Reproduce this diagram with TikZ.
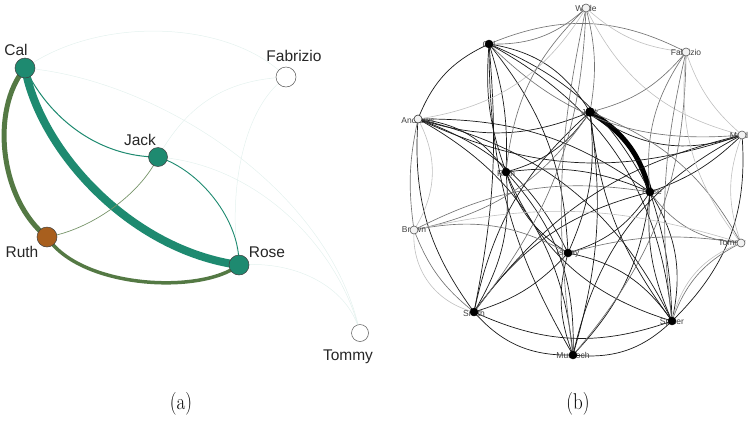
\documentclass[tikz,border=0pt]{standalone}
\usepackage{fontspec}
\usepackage{graphicx}
\newfontfamily\labfont{Liberation Sans}
\definecolor{tealC}{RGB}{30,138,112}
\definecolor{oliveC}{RGB}{84,121,68}
\definecolor{ruthC}{RGB}{168,95,30}
\pgfdeclarelayer{bg}
\pgfsetlayers{bg,main}
\begin{document}
\begin{tikzpicture}[x=1pt,y=-1pt,
  lnode/.style={circle,inner sep=0pt,minimum size=20pt,draw=black!75,line width=0.5pt},
  tealnode/.style={lnode,fill=tealC},
  ruthnode/.style={lnode,fill=ruthC},
  opennode/.style={lnode,fill=white,draw=black!65},
  llab/.style={font=\labfont\fontsize{15.5}{18}\selectfont,text=black!85,inner sep=0pt},
  faint/.style={draw=tealC!12,line width=0.5pt},
  captext/.style={font=\fontsize{19}{22}\selectfont,inner sep=0pt},
  rdot/.style={circle,inner sep=0pt,minimum size=8pt,fill=black,draw=black},
  ropen/.style={circle,inner sep=0pt,minimum size=8pt,draw=black!65,fill=black!5,line width=0.6pt},
  rlab/.style={font=\labfont\fontsize{8.5}{10}\selectfont,text=black!75,inner sep=0pt},
  dk/.style={draw=black!90,line width=0.7pt},
  md/.style={draw=black!55,line width=0.65pt},
  lt/.style={draw=black!25,line width=0.6pt}
]
\useasboundingbox (0,0) rectangle (752,421);

% ---------------- panel (a) ----------------
\node[tealnode] (cal) at (25,68) {};
\node[opennode] (fab) at (286,77) {};
\node[tealnode,minimum size=19pt] (jack) at (158,157) {};
\node[ruthnode] (ruth) at (47,237) {};
\node[tealnode] (rose) at (239,265) {};
\node[opennode,minimum size=17pt] (tommy) at (360,333) {};

\node[llab] (lcal) at (16,50) {Cal};
\node[llab] (lfab) at (294,56) {Fabrizio};
\node[llab] (ljack) at (140,140) {Jack};
\node[llab] (lruth) at (22,252) {Ruth};
\node[llab] (lrose) at (267,252) {Rose};
\node[llab] (ltommy) at (348,357) {Tommy};

\begin{pgfonlayer}{bg}
  \draw[faint] (cal.center) .. controls (100,15) and (230,20) .. (fab.center);
  \draw[faint] (cal.center) .. controls (160,80) and (330,190) .. (tommy.center);
  \draw[faint] (jack.center) .. controls (190,100) and (230,80) .. (fab.center);
  \draw[faint] (fab.center) .. controls (240,110) and (228,200) .. (rose.center);
  \draw[faint] (jack.center) .. controls (260,165) and (340,250) .. (tommy.center);
  \draw[faint] (rose.center) .. controls (300,260) and (350,290) .. (tommy.center);
  \draw[oliveC,line width=5pt] (cal.center) .. controls (-10,110) and (0,200) .. (ruth.center);
  \draw[tealC,line width=8pt] (cal.center) .. controls (40,150) and (130,250) .. (rose.center);
  \draw[tealC,line width=1pt] (cal.center) .. controls (50,120) and (100,157) .. (jack.center);
  \draw[tealC,line width=0.9pt] (jack.center) .. controls (200,170) and (240,220) .. (rose.center);
  \draw[oliveC!80,line width=0.7pt] (ruth.center) .. controls (90,230) and (140,195) .. (jack.center);
  \draw[oliveC,line width=3.5pt] (ruth.center) .. controls (80,288) and (200,295) .. (rose.center);
\end{pgfonlayer}

\node[captext] (capa) at (181,404) {\scalebox{1}[1.2]{(a)}};

% ---------------- panel (b) ----------------
\node[rlab] (lwil) at (586,8) {Wilde};
\node[rlab] (lcal2) at (489,44) {Cal};
\node[rlab] (lfab2) at (686,52) {Fabrizio};
\node[rlab] (land) at (418,120) {Andrews};
\node[rlab] (ljac) at (590,112) {Jack};
\node[rlab] (lmai) at (739,135) {Maid};
\node[rlab] (lrut) at (506,173) {Ruth};
\node[rlab] (lros) at (652,192) {Rose};
\node[rlab] (lbro) at (414,230) {Brown};
\node[rlab] (lism) at (568,253) {Ismay};
\node[rlab] (ltom) at (732,243) {Tommy};
\node[rlab] (lsmi) at (474,313) {Smith};
\node[rlab] (lspi) at (672,322) {Spicer};
\node[rlab] (lmur) at (573,355) {Murdoch};

\node[ropen] (wil) at (586,8) {};
\node[rdot] (cal2) at (489,44) {};
\node[ropen] (fab2) at (686,52) {};
\node[ropen,draw=black!80] (and) at (418,119) {};
\node[rdot,minimum size=9pt] (jac) at (590,112) {};
\node[ropen] (mai) at (742,135) {};
\node[rdot] (rut) at (506,172) {};
\node[rdot] (ros) at (650,192) {};
\node[ropen] (bro) at (414,230) {};
\node[rdot] (ism) at (568,253) {};
\node[ropen] (tom) at (741,243) {};
\node[rdot] (smi) at (474,312) {};
\node[rdot] (spi) at (672,321) {};
\node[rdot] (mur) at (573,355) {};

\begin{pgfonlayer}{bg}
  \draw[black,line width=5pt] (jac.center) to[bend left=22] (ros.center);
  \foreach \a/\b/\s/\k in {
    cal2/jac/dk/25, cal2/ros/dk/20, cal2/rut/dk/10, cal2/rut/dk/-12, cal2/smi/dk/8,
    cal2/mur/dk/-15, cal2/ism/dk/18, cal2/spi/dk/28, and/cal2/dk/22,
    and/jac/dk/-20, and/ros/dk/18, and/rut/dk/25, and/smi/dk/-20, and/ism/dk/22,
    and/mur/dk/28, and/spi/dk/25, and/mai/dk/-22,
    jac/rut/dk/20, jac/ism/dk/15, jac/smi/dk/-18, jac/mur/dk/12, jac/spi/dk/-15,
    jac/mai/dk/-28, ros/rut/dk/-15, ros/ism/dk/20, ros/smi/dk/-20, ros/mur/dk/18,
    ros/spi/dk/8, ros/spi/dk/-14, ros/spi/dk/22, ros/mai/dk/-12,
    rut/smi/dk/18, rut/ism/dk/-20, rut/mur/dk/22, rut/spi/dk/-25,
    ism/smi/dk/15, ism/mur/dk/-18, ism/spi/dk/22, smi/mur/dk/-25,
    smi/spi/dk/-22, smi/mai/dk/20, mur/spi/dk/-25, mur/mai/dk/25, spi/mai/dk/-25,
    cal2/mai/md/-25, wil/cal2/md/22, wil/jac/md/12, wil/smi/md/18, wil/mur/md/-10,
    fab2/jac/md/18, fab2/ros/md/-20, fab2/mur/md/20, fab2/cal2/md/-25,
    tom/spi/md/-22, tom/ros/md/25, tom/jac/md/-20, tom/ism/md/-12,
    bro/ros/md/18, bro/jac/md/-22, bro/smi/md/-15, bro/ism/md/20, bro/and/md/10,
    wil/fab2/lt/-18, wil/mai/lt/-25, fab2/mai/lt/-15, fab2/tom/lt/-22,
    bro/tom/lt/15, and/bro/lt/30, tom/mai/lt/20, wil/and/lt/25, smi/bro/lt/40,
    spi/tom/lt/28, fab2/spi/md/-10, wil/rut/md/-20}
  {
    \draw[\s] (\a.center) to[bend left=\k] (\b.center);
  }
\end{pgfonlayer}

\node[captext] (capb) at (578,404) {\scalebox{1}[1.2]{(b)}};
\end{tikzpicture}
\end{document}
